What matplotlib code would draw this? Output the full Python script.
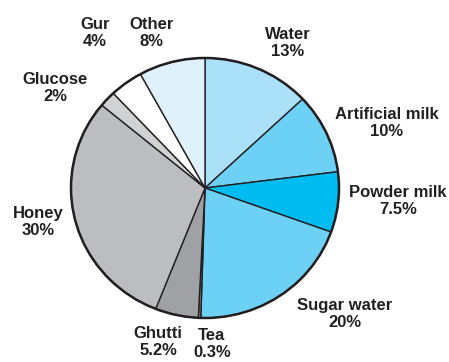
import matplotlib
matplotlib.use("Agg")
import matplotlib.pyplot as plt
from matplotlib.patches import Ellipse

# Feeding categories, clockwise from 12 o'clock
categories = ["Water", "Artificial milk", "Powder milk", "Sugar water", "Tea",
              "Ghutti", "Honey", "Glucose", "Gur", "Other"]
shares = [13, 10, 7.5, 20, 0.3, 5.2, 30, 2, 4, 8]
share_labels = ["13%", "10%", "7.5%", "20%", "0.3%", "5.2%", "30%", "2%", "4%", "8%"]

colors = ["#abe0f9", "#6dd0f5", "#00bcf0", "#6dd0f5", "#7f8184",
          "#a0a1a4", "#bcbdc0", "#d1d2d4", "#ffffff", "#dff2fc"]

# label anchor points (pixel coordinates, origin top-left)
label_px = [(288, 43), (387, 123), (398, 201), (345, 314), (212, 344),
            (158, 342), (38, 222), (55, 88), (95, 33), (152, 33)]

W, H = 449, 362
cx, cy = 205, 188        # pie centre in pixels
rx, ry = 134, 130        # horizontal / vertical radius in pixels

fig = plt.figure(figsize=(W / 100, H / 100), dpi=100)
ax = fig.add_axes([0, 0, 1, 1])

ax.pie(shares, colors=colors, startangle=90, counterclock=False,
       radius=1, center=(0, 0), frame=True,
       wedgeprops=dict(edgecolor="#231f20", linewidth=1.0))
ax.set_xlim(-cx / rx, (W - cx) / rx)
ax.set_ylim(-(H - cy) / ry, cy / ry)
ax.set_aspect("auto")
ax.axis("off")
ax.add_patch(Ellipse((0, 0), 2, 2, fill=False, edgecolor="#231f20", linewidth=1.8))


def to_data(px, py):
    return (px - cx) / rx, (cy - py) / ry


for name, lab, (px, py) in zip(categories, share_labels, label_px):
    x, y = to_data(px, py)
    ax.text(x, y, f"{name}\n{lab}", ha="center", va="center",
            fontsize=12, fontweight="bold", family="Liberation Sans",
            color="#231f20", linespacing=1.2)

fig.savefig("out.png", dpi=100)
